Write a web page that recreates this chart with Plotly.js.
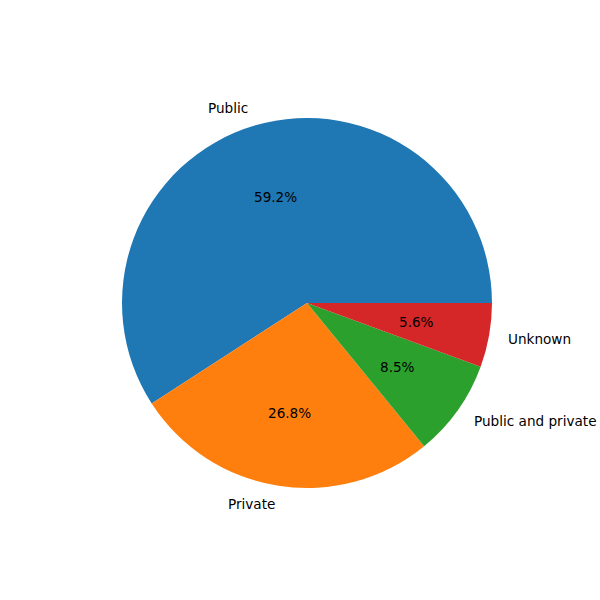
<!DOCTYPE html>
<html><head><meta charset="utf-8">
<script src="https://cdn.plot.ly/plotly-3.0.1.min.js"></script>
<style>body{margin:0;background:#fff}</style>
</head><body>
<div id="chart" style="width:600px;height:600px"></div>
<script>
const categories = ["Public", "Private", "Public and private", "Unknown"];
const shares = [59.2, 26.8, 8.5, 5.6];
const colors = ["#1f77b4", "#ff7f0e", "#2ca02c", "#d62728"];

const W = 600, H = 600;
const domain = {x: [0.2033, 0.82], y: [0.1867, 0.8033]};
const font = {family: "DejaVu Sans", size: 13.6, color: "#000"};

const total = shares.reduce((a, b) => a + b, 0);
// first slice starts at 3 o'clock and slices run counterclockwise
const rot = 90 - 360 * shares[0] / total;

const pieTrace = {
  type: "pie", labels: categories, values: shares, sort: false,
  direction: "counterclockwise", rotation: rot, domain: domain,
  marker: {colors: colors, line: {width: 0}},
  textinfo: "none", hoverinfo: "label+value", showlegend: false
};

// labels at 1.1 r and percentages at 0.6 r, along each slice's mid-angle
const cx = (domain.x[0] + domain.x[1]) / 2;
const cy = (domain.y[0] + domain.y[1]) / 2;
const rx = (domain.x[1] - domain.x[0]) / 2;
const ry = rx * W / H;
const annotations = [];
let acc = 0;
shares.forEach((v, i) => {
  const mid = (acc + v / 2) / total * 2 * Math.PI;
  acc += v;
  const c = Math.cos(mid), s = Math.sin(mid);
  annotations.push({
    xref: "paper", yref: "paper", showarrow: false,
    x: cx + 1.1 * rx * c, y: cy + 1.1 * ry * s,
    xanchor: c > 0 ? "left" : "right", yanchor: "middle",
    text: categories[i], font: font, borderpad: 0
  });
  annotations.push({
    xref: "paper", yref: "paper", showarrow: false,
    x: cx + 0.6 * rx * c, y: cy + 0.6 * ry * s,
    xanchor: "center", yanchor: "middle",
    text: v.toFixed(1) + "%", font: font, borderpad: 0
  });
});

Plotly.newPlot("chart", [pieTrace], {
  width: W, height: H, margin: {l: 0, r: 0, t: 0, b: 0},
  paper_bgcolor: "#fff", showlegend: false, annotations: annotations
}, {displayModeBar: false, staticPlot: true});
</script>
</body></html>
